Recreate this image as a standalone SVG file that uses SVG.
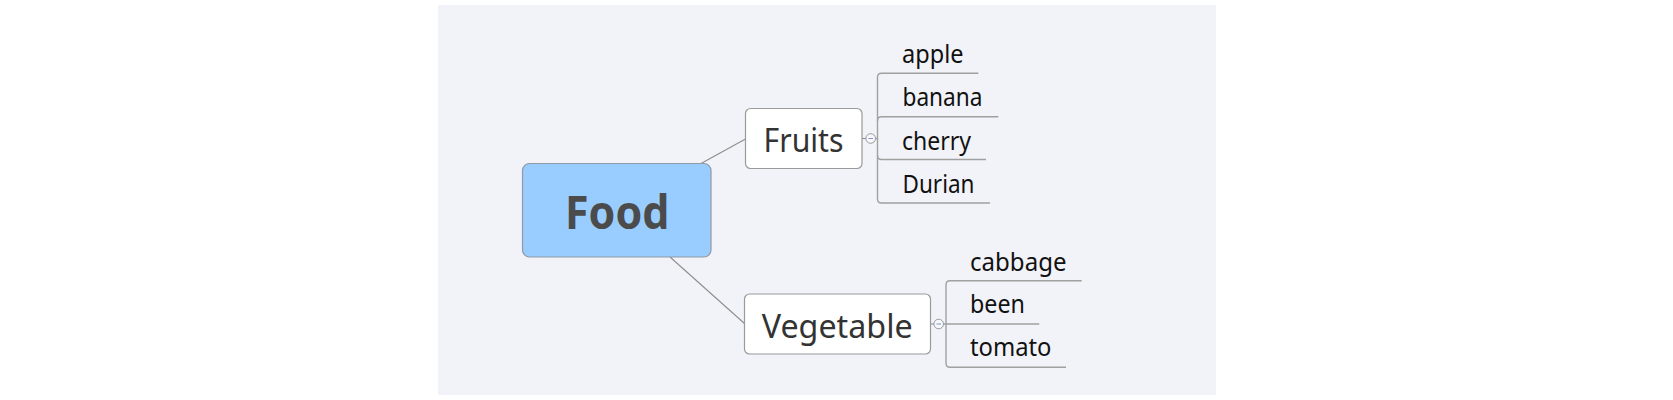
<svg xmlns="http://www.w3.org/2000/svg" width="1673" height="400" viewBox="0 0 1673 400">
<style>
.bg{fill:#f2f3f8}
.node{fill:#ffffff;stroke:#9a9a9a;stroke-width:1.2}
.root{fill:#99ccff;stroke:#8f9aa6;stroke-width:1.2}
.conn{fill:none;stroke:#8e8e8e;stroke-width:1.1}
.leafline{fill:none;stroke:#a0a0a0;stroke-width:1.4}
.tog{fill:#f7f8fb;stroke:#9a9a9a;stroke-width:1}
.minus{stroke:#7f8fd8;stroke-width:1}
.t{font-family:"Noto Sans","Open Sans","DejaVu Sans",sans-serif}
.rootT{font-size:47px;font-weight:bold;fill:#4b4b4b}
.midT{font-size:32.5px;fill:#333333}
.leafT{font-size:24.5px;fill:#111111}
</style>
<rect class="bg" x="438" y="5" width="778" height="390"/>
<g id="connectors">
<line class="conn" x1="701" y1="163.5" x2="745.5" y2="139"/>
<line class="conn" x1="670" y1="257" x2="744.5" y2="323.5"/>
<line class="conn" x1="862" y1="138.5" x2="866" y2="138.5"/>
<line class="conn" x1="930.5" y1="324" x2="934" y2="324"/>
<path class="leafline" d="M875.5 138.5 H877.5 V77.3 Q877.5 73.3 881.5 73.3 H978.3"/>
<path class="leafline" d="M877.5 120.7 Q877.5 116.7 881.5 116.7 H998.3"/>
<path class="leafline" d="M877.5 138.5 V155.5 Q877.5 159.5 881.5 159.5 H986"/>
<path class="leafline" d="M877.5 155 V199 Q877.5 203 881.5 203 H990"/>
<path class="leafline" d="M943.7 324 H946 V284.8 Q946 280.8 950 280.8 H1081.7"/>
<path class="leafline" d="M946 324 H1039.3"/>
<path class="leafline" d="M946 324 V363.3 Q946 367.3 950 367.3 H1066"/>
</g>
<g id="node-food">
<rect class="root" x="522.5" y="163.5" width="188.5" height="93.5" rx="7"/>
<text class="t rootT" x="565" y="229" textLength="104.5" lengthAdjust="spacingAndGlyphs">Food</text>
</g>
<g id="node-fruits">
<rect class="node" x="745.5" y="108.5" width="116.5" height="60" rx="5"/>
<text class="t midT" x="763.5" y="151.7" textLength="80" lengthAdjust="spacingAndGlyphs">Fruits</text>
<circle class="tog" cx="870.7" cy="138.5" r="4.8"/>
<line class="minus" x1="868.5" y1="138.5" x2="873" y2="138.5"/>
</g>
<g id="node-vegetable">
<rect class="node" x="744.5" y="294" width="186" height="60" rx="5"/>
<text class="t midT" x="761.7" y="338.3" textLength="151" lengthAdjust="spacingAndGlyphs">Vegetable</text>
<circle class="tog" cx="938.7" cy="324" r="4.8"/>
<line class="minus" x1="936.5" y1="324" x2="941" y2="324"/>
</g>
<g id="node-apple"><text class="t leafT" x="902" y="62.7" textLength="61.5" lengthAdjust="spacingAndGlyphs">apple</text></g>
<g id="node-banana"><text class="t leafT" x="902.5" y="106" textLength="80" lengthAdjust="spacingAndGlyphs">banana</text></g>
<g id="node-cherry"><text class="t leafT" x="902" y="149.5" textLength="69" lengthAdjust="spacingAndGlyphs">cherry</text></g>
<g id="node-durian"><text class="t leafT" x="902.5" y="192.7" textLength="72" lengthAdjust="spacingAndGlyphs">Durian</text></g>
<g id="node-cabbage"><text class="t leafT" x="970" y="271" textLength="96.5" lengthAdjust="spacingAndGlyphs">cabbage</text></g>
<g id="node-been"><text class="t leafT" x="970" y="313.3" textLength="55" lengthAdjust="spacingAndGlyphs">been</text></g>
<g id="node-tomato"><text class="t leafT" x="970" y="356" textLength="81.5" lengthAdjust="spacingAndGlyphs">tomato</text></g>
</svg>
